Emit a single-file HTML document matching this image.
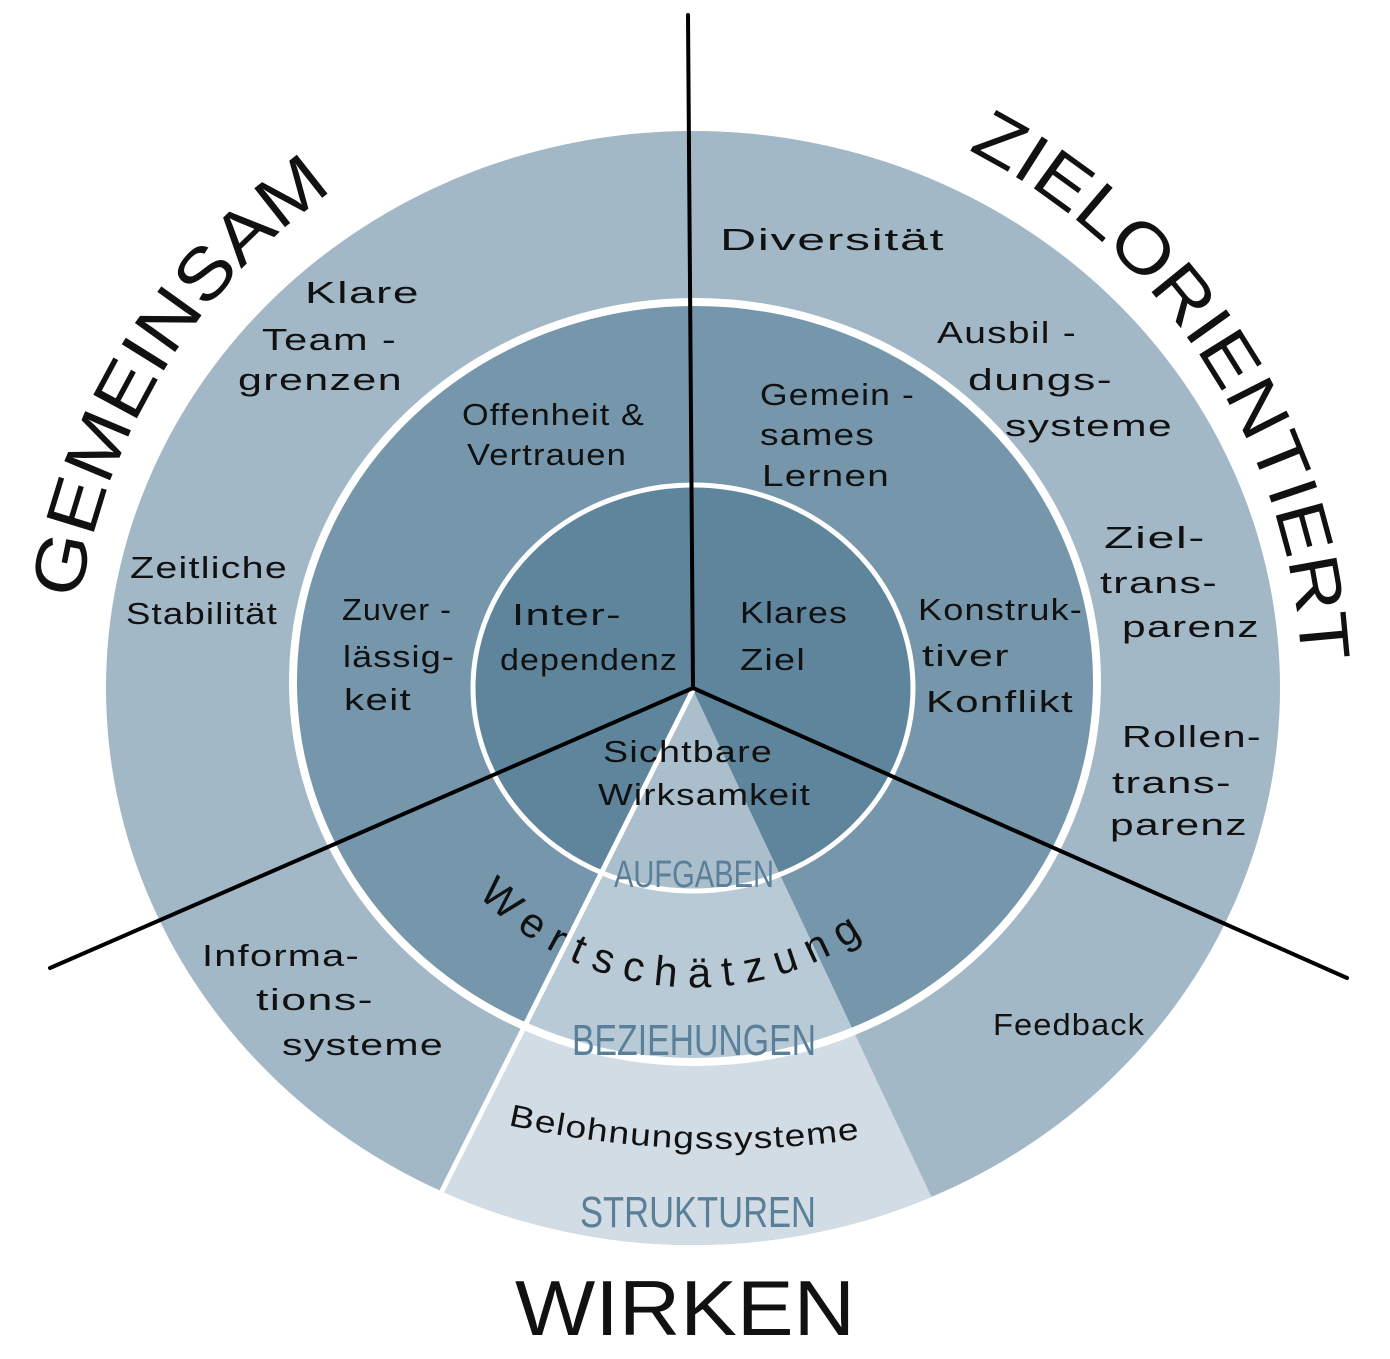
<!DOCTYPE html>
<html><head><meta charset="utf-8"><style>
html,body{margin:0;padding:0;background:#fff;}
svg{display:block;}
text{font-family:"Liberation Sans",sans-serif;fill:#111;}
.s{font-size:31px;letter-spacing:1px;}
.cap{fill:#5a7f99;font-family:"Liberation Sans Narrow","Liberation Sans",sans-serif;}
</style></head><body>
<svg width="1390" height="1359" viewBox="0 0 1390 1359" xmlns="http://www.w3.org/2000/svg">
<defs>
<clipPath id="tri"><polygon points="693,690 387,1300 980,1300"/></clipPath>
<path id="pg" d="M 80 600 A 612 612 0 0 1 484 113"/>
<path id="pz" d="M 968 150 A 610 610 0 0 1 1283 846"/>
<path id="pw" d="M 478 895 A 300 300 0 0 0 890 915"/>
<path id="pb" d="M 508 1125 Q 690 1165 865 1138"/>
</defs>
<ellipse cx="693" cy="688" rx="587" ry="557" fill="#a3b8c6"/>
<ellipse cx="695" cy="682" rx="402" ry="380" fill="#7696ab" stroke="#fff" stroke-width="8"/>
<ellipse cx="693" cy="688" rx="220" ry="203" fill="#5f859d" stroke="#fff" stroke-width="5"/>
<g clip-path="url(#tri)">
<ellipse cx="693" cy="688" rx="587" ry="557" fill="#d1dce4"/>
<ellipse cx="695" cy="682" rx="402" ry="380" fill="#b8cad6" stroke="#fff" stroke-width="8"/>
<ellipse cx="693" cy="688" rx="220" ry="203" fill="#aabecc" stroke="#fff" stroke-width="5"/>
</g>
<line x1="693" y1="690" x2="440" y2="1195" stroke="#fff" stroke-width="5"/>
<g stroke="#000" stroke-width="4" stroke-linecap="round">
<line x1="688" y1="15" x2="693" y2="688"/>
<line x1="693" y1="688" x2="50" y2="968"/>
<line x1="693" y1="688" x2="1347" y2="978"/>
</g>
<text font-size="72"><textPath href="#pg" textLength="495" lengthAdjust="spacingAndGlyphs">GEMEINSAM</textPath></text>
<text font-size="70"><textPath href="#pz" textLength="640" lengthAdjust="spacingAndGlyphs">ZIELORIENTIERT</textPath></text>
<text x="515" y="1335" font-size="78" textLength="340" lengthAdjust="spacingAndGlyphs">WIRKEN</text>

<text class="s" x="305" y="303" textLength="115" lengthAdjust="spacingAndGlyphs">Klare</text>
<text class="s" x="262" y="350" textLength="135" lengthAdjust="spacingAndGlyphs">Team -</text>
<text class="s" x="238" y="390" textLength="165" lengthAdjust="spacingAndGlyphs">grenzen</text>
<text class="s" x="130" y="578" textLength="158" lengthAdjust="spacingAndGlyphs">Zeitliche</text>
<text class="s" x="126" y="624" textLength="152" lengthAdjust="spacingAndGlyphs">Stabilität</text>
<text class="s" x="720" y="250" textLength="225" lengthAdjust="spacingAndGlyphs">Diversität</text>
<text class="s" x="937" y="343" textLength="140" lengthAdjust="spacingAndGlyphs">Ausbil -</text>
<text class="s" x="968" y="390" textLength="145" lengthAdjust="spacingAndGlyphs">dungs-</text>
<text class="s" x="1005" y="436" textLength="168" lengthAdjust="spacingAndGlyphs">systeme</text>
<text class="s" x="1104" y="548" textLength="102" lengthAdjust="spacingAndGlyphs">Ziel-</text>
<text class="s" x="1100" y="593" textLength="118" lengthAdjust="spacingAndGlyphs">trans-</text>
<text class="s" x="1122" y="637" textLength="138" lengthAdjust="spacingAndGlyphs">parenz</text>
<text class="s" x="1122" y="747" textLength="140" lengthAdjust="spacingAndGlyphs">Rollen-</text>
<text class="s" x="1112" y="793" textLength="120" lengthAdjust="spacingAndGlyphs">trans-</text>
<text class="s" x="1110" y="835" textLength="138" lengthAdjust="spacingAndGlyphs">parenz</text>
<text class="s" x="993" y="1035" textLength="152" lengthAdjust="spacingAndGlyphs">Feedback</text>
<text class="s" x="202" y="966" textLength="158" lengthAdjust="spacingAndGlyphs">Informa-</text>
<text class="s" x="256" y="1010" textLength="118" lengthAdjust="spacingAndGlyphs">tions-</text>
<text class="s" x="282" y="1055" textLength="162" lengthAdjust="spacingAndGlyphs">systeme</text>
<text class="s" x="462" y="425" textLength="183" lengthAdjust="spacingAndGlyphs">Offenheit &amp;</text>
<text class="s" x="467" y="465" textLength="160" lengthAdjust="spacingAndGlyphs">Vertrauen</text>
<text class="s" x="760" y="405" textLength="155" lengthAdjust="spacingAndGlyphs">Gemein -</text>
<text class="s" x="760" y="445" textLength="115" lengthAdjust="spacingAndGlyphs">sames</text>
<text class="s" x="762" y="486" textLength="128" lengthAdjust="spacingAndGlyphs">Lernen</text>
<text class="s" x="342" y="620" textLength="110" lengthAdjust="spacingAndGlyphs">Zuver -</text>
<text class="s" x="343" y="667" textLength="112" lengthAdjust="spacingAndGlyphs">lässig-</text>
<text class="s" x="344" y="710" textLength="68" lengthAdjust="spacingAndGlyphs">keit</text>
<text class="s" x="918" y="620" textLength="165" lengthAdjust="spacingAndGlyphs">Konstruk-</text>
<text class="s" x="922" y="666" textLength="88" lengthAdjust="spacingAndGlyphs">tiver</text>
<text class="s" x="926" y="712" textLength="148" lengthAdjust="spacingAndGlyphs">Konflikt</text>
<text class="s" x="512" y="625" textLength="110" lengthAdjust="spacingAndGlyphs">Inter-</text>
<text class="s" x="500" y="670" textLength="178" lengthAdjust="spacingAndGlyphs">dependenz</text>
<text class="s" x="740" y="623" textLength="108" lengthAdjust="spacingAndGlyphs">Klares</text>
<text class="s" x="740" y="670" textLength="66" lengthAdjust="spacingAndGlyphs">Ziel</text>
<text class="s" x="603" y="762" textLength="170" lengthAdjust="spacingAndGlyphs">Sichtbare</text>
<text class="s" x="598" y="805" textLength="213" lengthAdjust="spacingAndGlyphs">Wirksamkeit</text>
<text class="cap" x="614" y="887" font-size="38" textLength="160" lengthAdjust="spacingAndGlyphs">AUFGABEN</text>
<text font-size="42"><textPath href="#pw" textLength="420" lengthAdjust="spacing">Wertschätzung</textPath></text>
<text class="cap" x="572" y="1055" font-size="44" textLength="244" lengthAdjust="spacingAndGlyphs">BEZIEHUNGEN</text>
<text class="s"><textPath href="#pb" textLength="355" lengthAdjust="spacingAndGlyphs">Belohnungssysteme</textPath></text>
<text class="cap" x="580" y="1227" font-size="44" textLength="236" lengthAdjust="spacingAndGlyphs">STRUKTUREN</text>
</svg>
</body></html>
